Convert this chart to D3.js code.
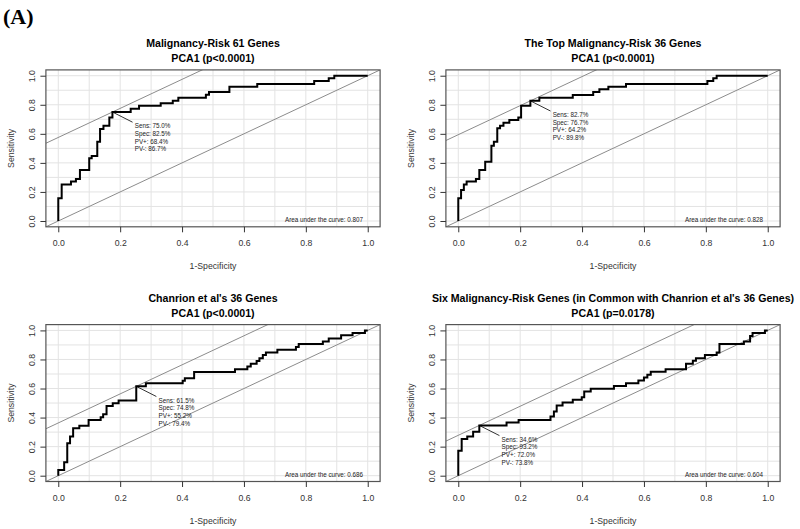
<!DOCTYPE html>
<html>
<head>
<meta charset="utf-8">
<script src="https://cdn.jsdelivr.net/npm/d3@7"></script>
<style>
html,body{margin:0;padding:0;background:#fff;}
svg{display:block;}
</style>
</head>
<body>
<svg id="chart" width="800" height="529"></svg>
<script>
// ---- Data ----
const titles1 = ["Malignancy-Risk 61 Genes", "The Top Malignancy-Risk 36 Genes", "Chanrion et al's 36 Genes", "Six Malignancy-Risk Genes (in Common with Chanrion et al's 36 Genes)"];
const titles2 = ["PCA1 (p<0.0001)", "PCA1 (p<0.0001)", "PCA1 (p<0.0001)", "PCA1 (p=0.0178)"];
const aucs = ["0.807", "0.828", "0.686", "0.604"];
const sensTxt = ["75.0%", "82.7%", "61.5%", "34.6%"];
const specTxt = ["82.5%", "76.7%", "74.8%", "93.2%"];
const ppvTxt = ["68.4%", "64.2%", "55.2%", "72.0%"];
const npvTxt = ["86.7%", "89.8%", "79.4%", "73.8%"];
const optFpr = [0.175, 0.233, 0.252, 0.068];
const optSens = [0.750, 0.827, 0.615, 0.346];
const tickVals = [0, 0.2, 0.4, 0.6, 0.8, 1.0];
const tickLabels = ["0.0", "0.2", "0.4", "0.6", "0.8", "1.0"];

const roc1Fpr = [0, 0, 0.011, 0.041, 0.057, 0.070, 0.100, 0.108, 0.126, 0.135, 0.146, 0.165, 0.175, 0.234, 0.261, 0.331, 0.370, 0.388, 0.477, 0.487, 0.553, 0.643, 0.827, 0.874, 0.892, 1.0];
const roc1Sens = [0, 0.156, 0.252, 0.271, 0.289, 0.351, 0.431, 0.447, 0.546, 0.633, 0.656, 0.713, 0.750, 0.773, 0.794, 0.810, 0.828, 0.849, 0.869, 0.888, 0.924, 0.943, 0.963, 0.982, 1.0, 1.0];

const roc2Fpr = [0, 0, 0.009, 0.018, 0.027, 0.057, 0.068, 0.087, 0.107, 0.115, 0.126, 0.135, 0.146, 0.165, 0.194, 0.203, 0.233, 0.262, 0.370, 0.436, 0.456, 0.485, 0.542, 0.805, 0.824, 0.835, 1.0];
const roc2Sens = [0, 0.156, 0.213, 0.252, 0.271, 0.289, 0.351, 0.408, 0.518, 0.546, 0.638, 0.656, 0.677, 0.695, 0.713, 0.794, 0.827, 0.849, 0.867, 0.888, 0.906, 0.924, 0.943, 0.963, 0.982, 1.0, 1.0];

const roc3Fpr = [0, 0, 0.019, 0.029, 0.038, 0.048, 0.068, 0.098, 0.137, 0.145, 0.156, 0.176, 0.195, 0.252, 0.283, 0.402, 0.409, 0.439, 0.571, 0.611, 0.622, 0.641, 0.650, 0.661, 0.671, 0.708, 0.768, 0.777, 0.855, 0.874, 0.914, 0.951, 0.991, 1.0];
const roc3Sens = [0, 0.039, 0.092, 0.223, 0.269, 0.326, 0.343, 0.384, 0.402, 0.423, 0.480, 0.499, 0.517, 0.615, 0.637, 0.653, 0.671, 0.713, 0.733, 0.752, 0.770, 0.789, 0.809, 0.830, 0.848, 0.867, 0.885, 0.906, 0.924, 0.945, 0.966, 0.982, 1.0, 1.0];

const roc4Fpr = [0, 0, 0.011, 0.029, 0.048, 0.068, 0.156, 0.195, 0.298, 0.309, 0.318, 0.337, 0.370, 0.399, 0.407, 0.428, 0.503, 0.542, 0.582, 0.600, 0.611, 0.622, 0.670, 0.736, 0.758, 0.768, 0.797, 0.835, 0.844, 0.923, 0.943, 0.951, 0.991, 1.0];
const roc4Sens = [0, 0.172, 0.253, 0.269, 0.303, 0.346, 0.366, 0.384, 0.407, 0.441, 0.483, 0.503, 0.522, 0.540, 0.579, 0.598, 0.618, 0.637, 0.655, 0.676, 0.694, 0.715, 0.733, 0.770, 0.791, 0.809, 0.830, 0.848, 0.906, 0.924, 0.961, 0.982, 1.0, 1.0];

const rocFpr = [roc1Fpr, roc2Fpr, roc3Fpr, roc4Fpr];
const rocSens = [roc1Sens, roc2Sens, roc3Sens, roc4Sens];

// ---- Layout ----
const panels = [
  {x0: 45.9, x1: 380.1, y0: 69.9, y1: 226.8},
  {x0: 445.9, x1: 780.1, y0: 69.9, y1: 226.8},
  {x0: 45.9, x1: 380.1, y0: 324.6, y1: 481.5},
  {x0: 445.9, x1: 780.1, y0: 324.6, y1: 481.5}
];
const FONT = "'Liberation Sans', Arial, Helvetica, sans-serif";
const svg = d3.select("#chart");

svg.append("text").attr("x", 3).attr("y", 24)
  .attr("font-family", "'Liberation Serif', 'Times New Roman', serif")
  .attr("font-weight", "bold").attr("font-size", 22).attr("fill", "#000").text("(A)");

panels.forEach((p, i) => {
  const x = d3.scaleLinear().domain([-0.04, 1.04]).range([p.x0, p.x1]);
  const y = d3.scaleLinear().domain([-0.04, 1.04]).range([p.y1, p.y0]);
  const g = svg.append("g");
  const clipId = "clip" + i;
  svg.append("clipPath").attr("id", clipId).append("rect")
    .attr("x", p.x0).attr("y", p.y0).attr("width", p.x1 - p.x0).attr("height", p.y1 - p.y0);

  // grid
  const grid = d3.range(0, 11).map(d => d / 10);
  g.selectAll(".gv").data(grid).join("line")
    .attr("x1", d => x(d)).attr("x2", d => x(d)).attr("y1", p.y0).attr("y2", p.y1)
    .attr("stroke", "#e3e3e3").attr("stroke-width", 1);
  g.selectAll(".gh").data(grid).join("line")
    .attr("y1", d => y(d)).attr("y2", d => y(d)).attr("x1", p.x0).attr("x2", p.x1)
    .attr("stroke", "#e3e3e3").attr("stroke-width", 1);

  const cg = g.append("g").attr("clip-path", `url(#${clipId})`);
  // diagonal
  cg.append("line").attr("x1", x(-0.04)).attr("y1", y(-0.04)).attr("x2", x(1.04)).attr("y2", y(1.04))
    .attr("stroke", "#8c8c8c").attr("stroke-width", 1);
  // parallel through optimal point
  const c = optSens[i] - optFpr[i];
  cg.append("line").attr("x1", x(-0.04)).attr("y1", y(-0.04 + c)).attr("x2", x(1.04)).attr("y2", y(1.04 + c))
    .attr("stroke", "#8c8c8c").attr("stroke-width", 1);

  // ROC curve
  const pts = rocFpr[i].map((f, k) => [f, rocSens[i][k]]);
  const line = d3.line().x(d => x(d[0])).y(d => y(d[1])).curve(d3.curveStepAfter);
  g.append("path").attr("d", line(pts)).attr("fill", "none")
    .attr("stroke", "#000").attr("stroke-width", 2).attr("stroke-linejoin", "miter");

  // pointer segment and annotation
  g.append("line").attr("x1", x(optFpr[i])).attr("y1", y(optSens[i]))
    .attr("x2", x(optFpr[i] + 0.065)).attr("y2", y(optSens[i] - 0.07))
    .attr("stroke", "#000").attr("stroke-width", 0.8);
  const lbl = ["Sens: " + sensTxt[i], "Spec: " + specTxt[i], "PV+: " + ppvTxt[i], "PV-: " + npvTxt[i]];
  const ty = y(optSens[i] - 0.07);
  g.selectAll(".ann").data(lbl).join("text")
    .attr("x", x(optFpr[i] + 0.072)).attr("y", (d, k) => ty + 6 + k * 7.7)
    .attr("font-family", FONT).attr("font-size", 6.3).attr("fill", "#222").text(d => d);

  // AUC
  g.append("text").attr("x", x(0.985)).attr("y", y(0) + 1.5)
    .attr("text-anchor", "end").attr("font-family", FONT).attr("font-size", 6.3).attr("fill", "#222")
    .text("Area under the curve: " + aucs[i]);

  // box
  g.append("rect").attr("x", p.x0).attr("y", p.y0).attr("width", p.x1 - p.x0).attr("height", p.y1 - p.y0)
    .attr("fill", "none").attr("stroke", "#555").attr("stroke-width", 1.2);

  // axes
  const xAxis = d3.axisBottom(x).tickValues(tickVals).tickFormat((d, k) => tickLabels[k]).tickSize(5.5).tickPadding(8);
  const ax = g.append("g").attr("transform", `translate(0,${p.y1})`).call(xAxis);
  ax.select(".domain").remove();
  ax.selectAll("line").attr("stroke", "#333");
  ax.selectAll("text").attr("font-family", FONT).attr("font-size", 8.7).attr("fill", "#333");

  const yAxis = d3.axisLeft(y).tickValues(tickVals).tickFormat((d, k) => tickLabels[k]).tickSize(5.5);
  const ay = g.append("g").attr("transform", `translate(${p.x0},0)`).call(yAxis);
  ay.select(".domain").remove();
  ay.selectAll("line").attr("stroke", "#333");
  ay.selectAll("text").attr("font-family", FONT).attr("font-size", 8.7).attr("fill", "#333")
    .attr("transform", null).attr("x", null).attr("dy", null)
    .attr("text-anchor", "middle")
    .attr("transform", d => `translate(${p.x0 - 10.6},${0}) rotate(-90)`)
    .attr("x", 0).attr("y", 0);
  // re-position y labels correctly: place in absolute coords
  ay.selectAll(".tick").each(function(d) {
    d3.select(this).select("text")
      .attr("transform", `translate(-10.6,0) rotate(-90)`)
      .attr("x", 0).attr("y", 0).attr("dy", null);
  });

  // axis titles
  const cx = (p.x0 + p.x1) / 2;
  g.append("text").attr("x", cx).attr("y", p.y1 + 42.5).attr("text-anchor", "middle")
    .attr("font-family", FONT).attr("font-size", 8.7).attr("fill", "#333").text("1-Specificity");
  g.append("text").attr("transform", `translate(${p.x0 - 32},${(p.y0 + p.y1) / 2}) rotate(-90)`)
    .attr("text-anchor", "middle").attr("font-family", FONT).attr("font-size", 8.7).attr("fill", "#333")
    .text("Sensitivity");

  // titles
  g.append("text").attr("x", cx).attr("y", p.y0 - 22.5).attr("text-anchor", "middle")
    .attr("font-family", FONT).attr("font-weight", "bold").attr("font-size", 10.6).attr("fill", "#000").text(titles1[i]);
  g.append("text").attr("x", cx).attr("y", p.y0 - 7.5).attr("text-anchor", "middle")
    .attr("font-family", FONT).attr("font-weight", "bold").attr("font-size", 10.6).attr("fill", "#000").text(titles2[i]);
});
</script>
</body>
</html>
